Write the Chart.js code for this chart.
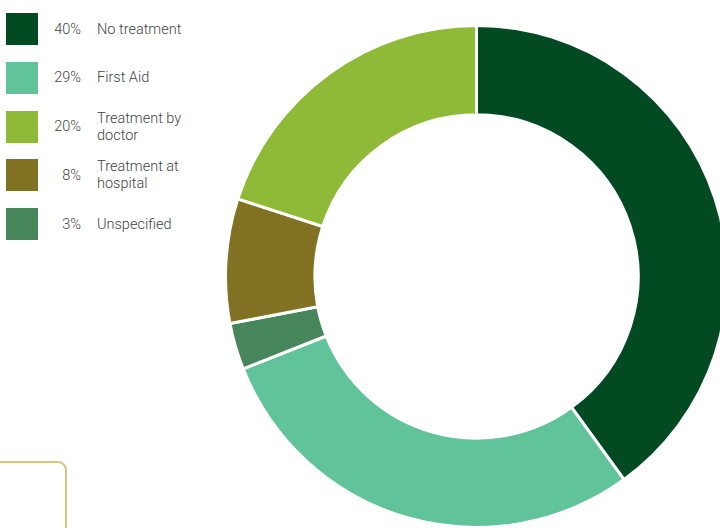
<!DOCTYPE html>
<html>
<head>
<meta charset="utf-8">
<script src="https://cdn.jsdelivr.net/npm/chart.js@4"></script>
<style>
  html, body {
    margin: 0;
    width: 720px;
    height: 528px;
    overflow: hidden;
    background: #fff;
    font-family: Roboto, "Noto Sans", sans-serif;
  }
  #chart-wrap {
    position: absolute;
    left: 224px;
    top: 24px;
    width: 505px;
    height: 505px;
  }
  #legend {
    position: absolute;
    left: 6px;
    top: 13px;
    margin: 0;
    padding: 0;
    list-style: none;
  }
  #legend li {
    display: flex;
    align-items: center;
    height: 32px;
    margin-bottom: 16.75px;
    color: #444;
    font-size: 14.5px;
    font-weight: 300;
    line-height: 17px;
  }
  #legend .swatch {
    width: 32px;
    height: 32px;
    flex: none;
  }
  #legend .pct {
    width: 43px;
    text-align: right;
    flex: none;
  }
  #legend .name {
    margin-left: 16px;
    white-space: pre-line;
  }
  #note-box {
    position: absolute;
    left: -20px;
    top: 461px;
    width: 83px;
    height: 100px;
    border: 2px solid #dcc27a;
    border-radius: 9px;
  }
</style>
</head>
<body>
<ul id="legend"></ul>
<div id="note-box"></div>
<div id="chart-wrap"><canvas id="injuryChart"></canvas></div>

<script>
// ---------------- DATA ----------------
const categories = ["No treatment", "First Aid", "Treatment by\ndoctor", "Treatment at\nhospital", "Unspecified"];
const shares = [40, 29, 20, 8, 3];
const colors = ["#024a22", "#61c39a", "#8fba38", "#817122", "#46865a"];

// order the slices are drawn in, clockwise from the top
const sliceOrder = [0, 1, 4, 3, 2];

// ---------------- LEGEND ----------------
const legendEl = document.getElementById("legend");

categories.forEach((name, i) => {
  const li = document.createElement("li");
  li.innerHTML = `
    <span class="swatch" style="background:${colors[i]}"></span>
    <span class="pct">${shares[i]}%</span>
    <span class="name">${name}</span>
  `;
  legendEl.appendChild(li);
});

// ---------------- DOUGHNUT ----------------
new Chart(document.getElementById("injuryChart"), {
  type: "doughnut",
  data: {
    labels: sliceOrder.map(i => categories[i].replace("\n", " ")),
    datasets: [{
      data: sliceOrder.map(i => shares[i]),
      backgroundColor: sliceOrder.map(i => colors[i]),
      borderColor: "#ffffff",
      borderWidth: 3,
    }],
  },
  options: {
    responsive: true,
    maintainAspectRatio: false,
    animation: false,
    cutout: "64.4%",
    layout: { padding: 0 },
    plugins: {
      legend: { display: false },
      tooltip: { enabled: false },
    },
  },
});
</script>
</body>
</html>
